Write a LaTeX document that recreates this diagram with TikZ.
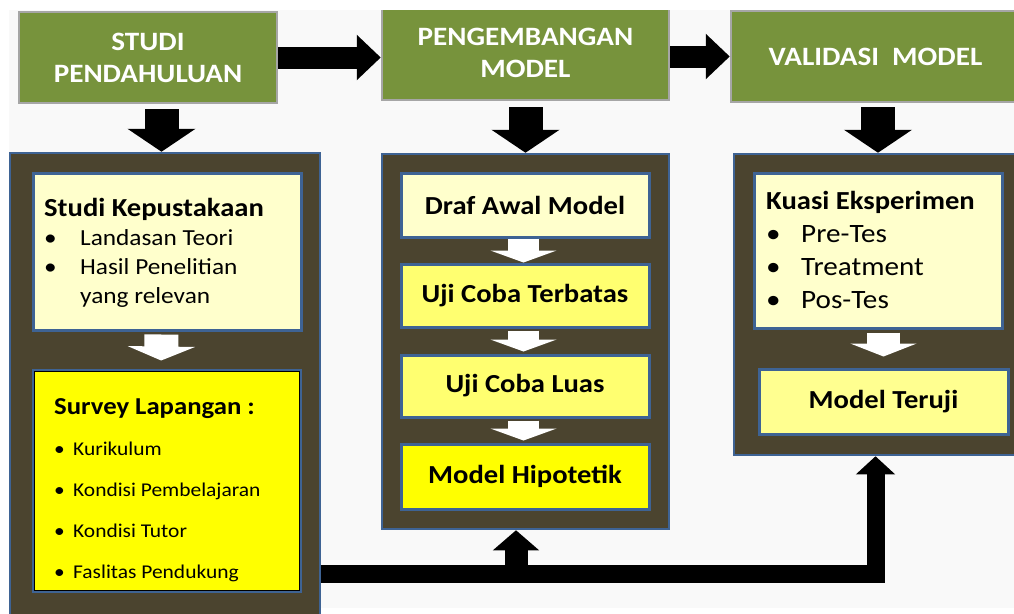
\documentclass[tikz,border=0pt]{standalone}
\usepackage{fontspec}
\setmainfont{Carlito}[FakeStretch=1.1]
\usetikzlibrary{arrows.meta}

\definecolor{bggray}{HTML}{F9F9F9}
\definecolor{olivegreen}{HTML}{77933C}
\definecolor{greenframe}{HTML}{A6A6A6}
\definecolor{boxbrown}{HTML}{4B442F}
\definecolor{frameblue}{HTML}{3E6394}
\definecolor{paleyellow}{HTML}{FFFFCC}
\definecolor{midyellow}{HTML}{FFFF70}
\definecolor{softyellow}{HTML}{FFFF90}
\definecolor{fullyellow}{HTML}{FFFF00}

\newcommand{\itm}[2]{\makebox[#1][l]{\textbullet}#2}

\begin{document}
\begin{tikzpicture}[
            x=1pt, y=-1pt,
            every node/.append style={inner sep=0pt},
            stage/.style={draw=greenframe, line width=2.5pt, fill=olivegreen,
                text=white, font=\bfseries\fontsize{26.5}{32}\selectfont, align=center},
            panel/.style={draw=frameblue, line width=2.5pt, fill=boxbrown},
            card/.style={draw=frameblue, line width=3pt,
                font=\bfseries\fontsize{26}{30}\selectfont},
            flowright/.style={line width=22pt, -{Triangle[length=24pt, width=44pt]}},
            flowdown/.style={line width=34pt, shorten <=5pt,
                -{Triangle[length=23pt, width=67pt]}},
            stepdown/.style={white, line width=33pt, -{Triangle[length=13pt, width=66pt]}}
        ]
    \useasboundingbox (0,0) rectangle (1014,613);
    \clip (9,10) rectangle (1014,613);
    \fill[bggray] (9,10) rectangle (1014,608);

    % tahap utama
    \node[stage, minimum width=258, minimum height=91] (studi) at (148,57.5) {STUDI\\PENDAHULUAN};
    \node[stage, minimum width=287, minimum height=94] (kembang) at (525.5,53) {PENGEMBANGAN\\MODEL};
    \node[stage, minimum width=289, minimum height=91] (valid) at (875.5,56.5) {VALIDASI\ \ MODEL};

    \draw[flowright] (studi.east) -- (studi.east -| kembang.west);
    \draw[flowright] (kembang.east |- valid.west) -- (valid.west);

    % panel
    \node[panel, minimum width=310, minimum height=472] (leftpanel) at (165,389) {};
    \node[panel, minimum width=287, minimum height=375] (midpanel) at (525.5,341.5) {};
    \node[panel, minimum width=288, minimum height=301] (rightpanel) at (878,304.5) {};

    \draw[flowdown] ([xshift=-3.5pt]leftpanel.north |- studi.south) -- ([xshift=-3.5pt]leftpanel.north);
    \draw[flowdown, shorten <=6pt] (midpanel.north |- kembang.south) -- (midpanel.north);
    \draw[flowdown, shorten <=4pt] (rightpanel.north |- valid.south) -- (rightpanel.north);

    % studi pendahuluan
    \node[card, fill=paleyellow, minimum width=268, minimum height=157] (pustaka) at (167,251.5) {};
    \node[card, fill=fullyellow, minimum width=267, minimum height=221] (survey) at (166.5,480.5) {};
    \draw[line width=0.8pt] ([shift={(2.5pt,-2.5pt)}]survey.north west) rectangle ([shift={(-2.5pt,2.5pt)}]survey.south east);
    \draw[stepdown, line width=34pt, shorten <=3pt, shorten >=8pt,
        -{Triangle[length=14pt, width=67pt]}]
        ([xshift=-5.5pt]pustaka.south) -- ([xshift=-5.5pt]survey.north);

    \node[anchor=base west, align=left, font=\fontsize{23}{29}\selectfont] (pustakatext) at (44,303)
        {{\bfseries\fontsize{26}{29}\selectfont Studi Kepustakaan}\\
         \itm{36pt}{Landasan Teori}\\
         \itm{36pt}{Hasil Penelitian}\\
         \hspace*{36pt}yang relevan};
    \begin{scope}
        \clip (36,372) rectangle (297,581);
        \node[anchor=base west, align=left, font=\fontsize{19.5}{41}\selectfont] (surveytext) at (54,578)
            {{\bfseries\fontsize{24.3}{41}\selectfont Survey Lapangan :}\\
             \itm{19pt}{Kurikulum}\\
             \itm{19pt}{Kondisi Pembelajaran}\\
             \itm{19pt}{Kondisi Tutor}\\
             \itm{19pt}{Faslitas Pendukung}};
    \end{scope}

    % pengembangan model
    \node[card, fill=paleyellow, minimum width=248, minimum height=64] (draf) at (525,205) {Draf Awal Model};
    \node[card, fill=midyellow, minimum width=248, minimum height=63] (terbatas) at (525,295.5) {Uji Coba Terbatas};
    \node[card, fill=midyellow, minimum width=248, minimum height=62] (luas) at (525,386) {Uji Coba Luas};
    \node[card, fill=fullyellow, minimum width=248, minimum height=65] (hipotetik) at (525,476.5) {Model Hipotetik};

    \draw[stepdown, line width=31pt, -{Triangle[length=12pt, width=66pt]}]
        ([xshift=-1.5pt]draf.south) -- ([xshift=-1.5pt]terbatas.north);
    \draw[stepdown, line width=31pt, shorten <=2pt, shorten >=2pt, -{Triangle[length=12pt, width=66pt]}]
        ([xshift=-1.5pt]terbatas.south) -- ([xshift=-1.5pt]luas.north);
    \draw[stepdown, line width=31pt, shorten <=2pt, shorten >=2pt, -{Triangle[length=12pt, width=66pt]}]
        ([xshift=-1.5pt]luas.south) -- ([xshift=-1.5pt]hipotetik.north);

    % validasi model
    \node[card, fill=paleyellow, minimum width=248, minimum height=155] (kuasi) at (878,250.5) {};
    \node[card, fill=softyellow, minimum width=249, minimum height=65] (teruji) at (883.5,401.5) {Model Teruji};
    \draw[stepdown, shorten <=3pt, shorten >=11pt] (teruji.north |- kuasi.south) -- (teruji.north);

    \node[anchor=base west, align=left, font=\fontsize{26.5}{33}\selectfont] (kuasitext) at (766,308)
        {{\bfseries\fontsize{26}{33}\selectfont Kuasi Eksperimen}\\
         \itm{35pt}{Pre-Tes}\\
         \itm{35pt}{Treatment}\\
         \itm{35pt}{Pos-Tes}};

    % hasil survey ke model
    \coordinate (bar) at (320,573.5);
    \draw[line width=18pt, -{Triangle[length=18pt, width=38pt]}]
        (leftpanel.east |- bar) -| ([xshift=-2.5pt]rightpanel.south);
    \draw[line width=23pt, -{Triangle[length=20pt, width=45pt]}]
        ([xshift=-9.5pt]midpanel.south |- bar) -- ([xshift=-9.5pt]midpanel.south);
\end{tikzpicture}
\end{document}
